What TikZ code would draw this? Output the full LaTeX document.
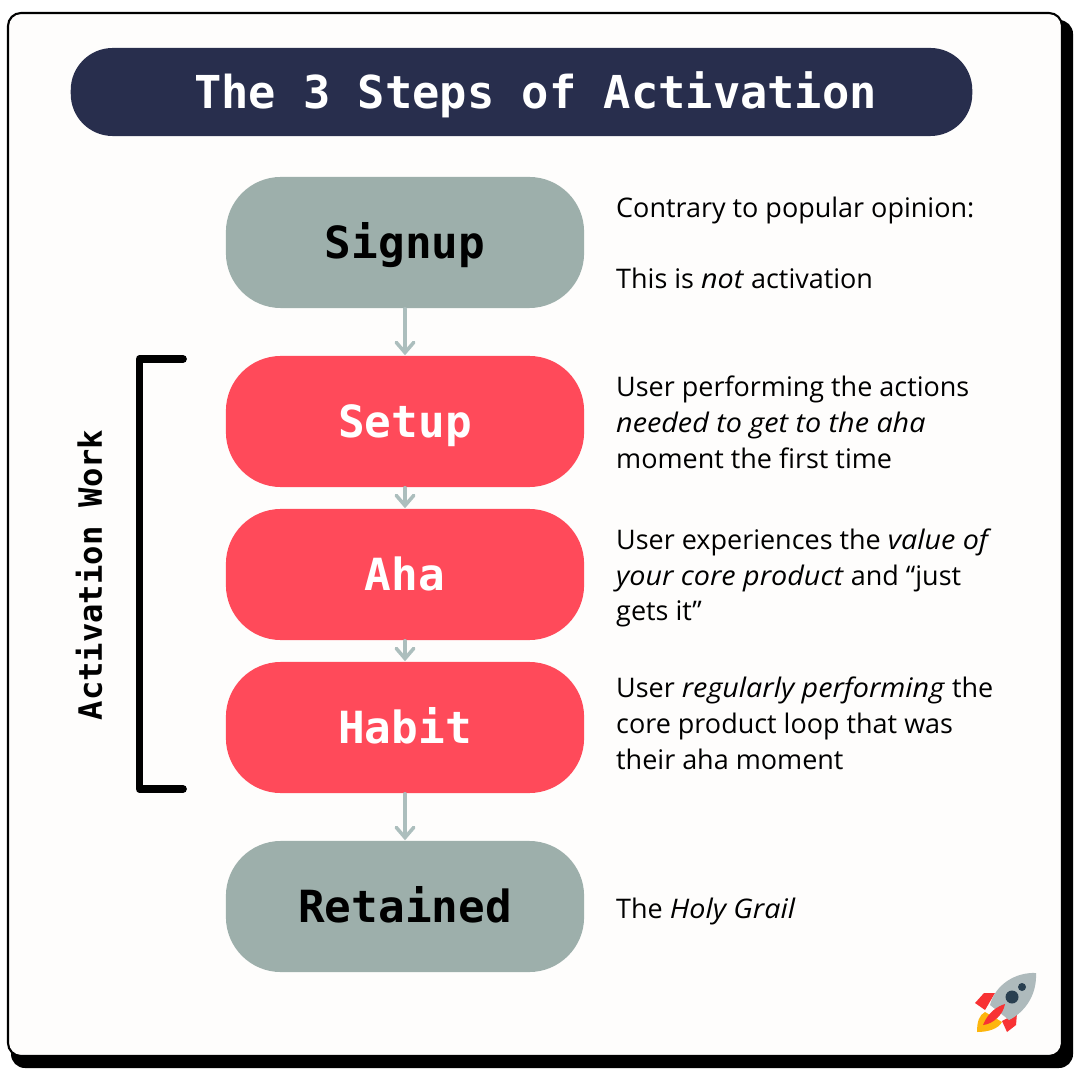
\documentclass[tikz,border=0pt]{standalone}
\usepackage{fontspec}
\setmainfont{Open Sans}[ItalicFeatures={FakeStretch=1.065}]
\newfontfamily\headfont{DejaVu Sans Mono}
\usetikzlibrary{arrows.meta}
\definecolor{cardwhite}{RGB}{254,253,252}
\definecolor{titlenavy}{RGB}{40,46,77}
\definecolor{stepgrey}{RGB}{157,175,171}
\definecolor{stepred}{RGB}{255,74,90}
\definecolor{arrowgrey}{RGB}{172,190,189}
\definecolor{rocketgrey}{RGB}{174,186,188}
\definecolor{rocketdark}{RGB}{41,63,80}
\definecolor{rocketred}{RGB}{248,50,52}
\definecolor{rocketyellow}{RGB}{253,182,14}
\tikzset{
    stepbox/.style={rectangle, minimum width=3.58cm, minimum height=1.31cm, rounded corners=0.55cm, inner sep=0pt, text height=9.2pt, text depth=0pt, font=\headfont\bfseries\fontsize{12.6}{15}\selectfont},
    greybox/.style={stepbox, fill=stepgrey, text=black},
    redbox/.style={stepbox, fill=stepred, text=white},
    note/.style={anchor=west, align=left, inner sep=0pt, font=\fontsize{7.67}{10.2}\selectfont},
    flow/.style={-{Straight Barb[length=2.9pt, width=5pt, line cap=round]}, line width=1pt, line cap=round, draw=arrowgrey}
}
\begin{document}
\begin{tikzpicture}[x=0.01cm, y=-0.01cm]
    \useasboundingbox (0,0) rectangle (1080,1080);
    \fill[white] (0,0) rectangle (1080,1080);
    \fill[black, rounded corners=0.14cm] (11,20) rectangle (1073,1068);
    \draw[fill=cardwhite, line width=0.6pt, rounded corners=0.13cm] (8,13) rectangle (1062,1056);

    \node[rectangle, fill=titlenavy, text=white, minimum width=9.01cm, minimum height=0.88cm, rounded corners=0.42cm, inner sep=0pt, text height=9.4pt, text depth=0pt, font=\headfont\bfseries\fontsize{12.9}{15}\selectfont] (title) at (521.5,92) {\hspace{0.28cm}The 3 Steps of Activation};

    \node[greybox] (signup) at (405,242.5) {Signup};
    \node[redbox] (setup) at (405,421.5) {Setup};
    \node[redbox] (aha) at (405,574.5) {Aha};
    \node[redbox] (habit) at (405,727.5) {Habit};
    \node[greybox] (retained) at (405,906.5) {Retained};

    \draw[flow] (signup) -- (setup);
    \draw[flow] (setup) -- (aha);
    \draw[flow] (aha) -- (habit);
    \draw[flow] (habit) -- (retained);

    \node[note] (signupnote) at (615.5,243) {Contrary to popular opinion:\\[10.2pt]This is \emph{not} activation};
    \node[note] (setupnote) at (615.5,422) {User performing the actions\\\emph{needed to get to the aha}\\moment the first time};
    \node[note] (ahanote) at (615.5,578) {User experiences the \emph{value of}\\\emph{your core product} and “just\\gets it”};
    \node[note] (habitnote) at (615.5,723) {User \emph{regularly performing} the\\core product loop that was\\their aha moment};
    \node[note] (retainednote) at (615.5,911) {The \emph{Holy Grail}};

    \draw[line width=2.2pt, line cap=round, line join=round] (183,359) -- (139.5,359) -- (139.5,789) -- (183,789);
    \node[rotate=90, inner sep=0pt, font=\headfont\bfseries\fontsize{9.15}{11}\selectfont] (worklabel) at (89,575) {Activation Work};

    \fill[rocketred] (975,1003) -- (984,993) -- (995,993) -- (985,1010) -- cycle;
    \fill[rocketred] (1017,1013) -- (1016,1025) -- (1007,1032) -- (1002,1021) -- cycle;
    \fill[rocketyellow] (977,1032) .. controls (977,1022) and (979,1015) .. (985,1012) -- (1002,1022) .. controls (998,1029) and (988,1032) .. (977,1032) -- cycle;
    \fill[rocketgrey] (1036,973) .. controls (1015,972) and (995,985) .. (990,1005) -- (1009,1020) .. controls (1025,1012) and (1037,995) .. (1036,973) -- cycle;
    \fill[rocketred] (1005,1004) .. controls (998,1006) and (988,1012) .. (983,1025) .. controls (993,1024) and (1003,1015) .. (1005,1004) -- cycle;
    \fill[rocketdark] (1012,997) circle (6.5);
    \fill[rocketdark] (1022,987) circle (4);
\end{tikzpicture}
\end{document}
